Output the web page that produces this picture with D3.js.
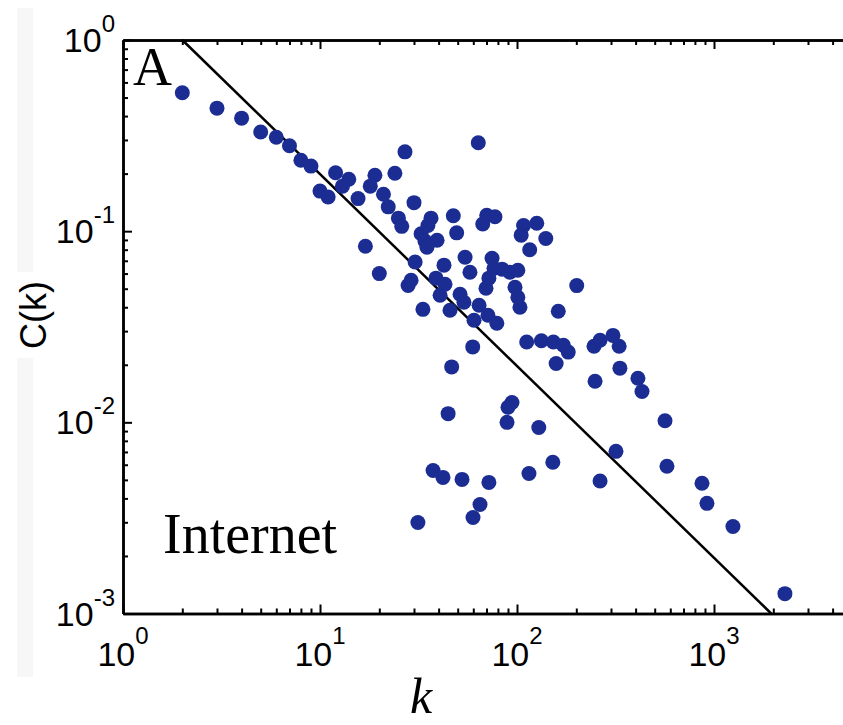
<!DOCTYPE html>
<html>
<head>
<meta charset="utf-8">
<script src="https://cdn.jsdelivr.net/npm/d3@7"></script>
<style>
  body { margin: 0; background: #fff; }
  svg { display: block; }
</style>
</head>
<body>
<div id="chart"></div>
<script>
// degree k and clustering C(k)
const kVals = [2, 3, 4, 5, 6, 7, 8, 9, 10, 11,
  12, 14, 13, 15.6, 17, 19, 18, 21, 22.2, 24,
  27, 25, 26, 20, 30, 28, 29, 30.4, 32.6, 33.3,
  36.6, 35.3, 34.1, 39.3, 34.9, 47.5, 49.4, 70.2, 77.3, 67,
  108, 126, 105, 140, 116, 63.6, 42.6, 54.5, 57.7, 74.7,
  76.4, 84, 92, 101, 72, 97.7, 101, 103.5, 38.8, 43.1,
  40.7, 51.4, 53.8, 69.6, 64.2, 71.2, 79, 60.5, 45.7, 201,
  162, 59.6, 46.6, 112, 133, 153, 172, 182, 158, 246,
  264, 307, 330, 249, 333, 411, 431, 44.7, 94.3, 90,
  89, 129, 37.5, 42.1, 52.6, 72, 115, 152, 264, 318,
  64.9, 59.8, 31.4, 564, 577, 869, 921, 1248, 2291];

const cVals = [0.53, 0.44, 0.39, 0.33, 0.31, 0.28, 0.235, 0.219, 0.162, 0.151,
  0.202, 0.187, 0.172, 0.148, 0.0834, 0.196, 0.172, 0.156, 0.134, 0.201,
  0.26, 0.117, 0.106, 0.060, 0.141, 0.052, 0.0554, 0.069, 0.097, 0.039,
  0.117, 0.107, 0.0887, 0.0897, 0.0824, 0.1205, 0.098, 0.121, 0.119, 0.109,
  0.107, 0.110, 0.0953, 0.0916, 0.080, 0.29, 0.0664, 0.073, 0.061, 0.0722,
  0.064, 0.0633, 0.061, 0.0625, 0.0568, 0.0509, 0.0451, 0.040, 0.0568, 0.0528,
  0.0462, 0.0468, 0.0425, 0.0503, 0.041, 0.0363, 0.033, 0.0342, 0.0386, 0.0519,
  0.0381, 0.0248, 0.0195, 0.0263, 0.0267, 0.0263, 0.0253, 0.0233, 0.0203, 0.025,
  0.0269, 0.0285, 0.025, 0.0164, 0.0192, 0.017, 0.0145, 0.0111, 0.0127, 0.012,
  0.0100, 0.0094, 0.0056, 0.00515, 0.00503, 0.00485, 0.0054, 0.00618, 0.00493, 0.00705,
  0.00372, 0.00318, 0.00299, 0.0102, 0.00589, 0.0048, 0.00377, 0.00285, 0.00127];

// fitted power law line, end points
const lineK = [2, 1950];
const lineC = [1, 0.001];

// axis decades
const xDecades = [0, 1, 2, 3];
const yDecades = [0, -1, -2, -3];

const width = 843,
  height = 725;

const svg = d3.select("#chart")
  .append("svg")
  .attr("width", width)
  .attr("height", height);

// faint strip left over from the scan
svg.append("rect").attr("x", 17).attr("y", 8).attr("width", 16).attr("height", 669).attr("fill", "#f7f7f7");
svg.append("rect").attr("x", 17).attr("y", 272).attr("width", 16).attr("height", 86).attr("fill", "#fff");

const x = d3.scaleLog()
  .domain([1, 1e4])
  .range([123, 123 + 4 * 197]);

const y = d3.scaleLog()
  .domain([1e-3, 1])
  .range([613.5, 40]);

// minor ticks 1..9 per decade
const xMinor = [];
for (let d = 0; d < 4; d++) for (let m = 2; m <= 9; m++) xMinor.push(m * Math.pow(10, d));
const yMinor = [];
for (let d = -3; d < 0; d++) for (let m = 2; m <= 9; m++) yMinor.push(m * Math.pow(10, d));
const xMajor = [1, 10, 100, 1000, 10000];
const yMajor = [0.001, 0.01, 0.1, 1];

function drawAxis(gen, minor, major, tx, ty) {
  const g = svg.append("g").attr("transform", `translate(${tx},${ty})`);
  g.append("g").call(gen.tickValues(minor).tickSize(-5).tickSizeOuter(0).tickFormat(""));
  g.append("g").call(gen.tickValues(major).tickSize(-9).tickSizeOuter(0).tickFormat(""));
  g.selectAll(".domain").attr("stroke", "#000").attr("stroke-width", 2.5);
  g.selectAll(".tick line").attr("stroke", "#000").attr("stroke-width", 2);
}

drawAxis(d3.axisBottom(x), xMinor, xMajor, 0, y(1e-3));
drawAxis(d3.axisTop(x), xMinor, xMajor, 0, y(1));
drawAxis(d3.axisLeft(y), yMinor, yMajor, x(1), 0);

// tick labels with superscripts
const xl = svg.append("g")
  .selectAll("text")
  .data(xDecades)
  .join("text")
  .attr("x", d => x(Math.pow(10, d)))
  .attr("y", 666)
  .attr("text-anchor", "middle")
  .attr("font-family", "Liberation Sans, Arial, sans-serif")
  .attr("font-size", 34);
xl.append("tspan").text("10");
xl.append("tspan").attr("dy", -22).attr("font-size", 24).text(d => d);

const yl = svg.append("g")
  .selectAll("text")
  .data(yDecades)
  .join("text")
  .attr("x", 115)
  .attr("y", d => y(Math.pow(10, d)) + 12)
  .attr("text-anchor", "end")
  .attr("font-family", "Liberation Sans, Arial, sans-serif")
  .attr("font-size", 34);
yl.append("tspan").text("10");
yl.append("tspan").attr("dy", -20).attr("font-size", 24).text(d => d === 0 ? "0" : "-" + Math.abs(d));

// power law line
svg.append("path")
  .datum(d3.zip(lineK, lineC))
  .attr("fill", "none")
  .attr("stroke", "#000")
  .attr("stroke-width", 2.5)
  .attr("d", d3.line().x(d => x(d[0])).y(d => y(d[1])));

// points
svg.append("g")
  .selectAll("circle")
  .data(d3.zip(kVals, cVals))
  .join("circle")
  .attr("cx", d => x(d[0]))
  .attr("cy", d => y(d[1]))
  .attr("r", 7.5)
  .attr("fill", "#1b2d92");

// labels
svg.append("text")
  .attr("x", 133).attr("y", 85)
  .attr("font-family", "Liberation Serif, Times New Roman, serif")
  .attr("font-size", 54)
  .text("A");

svg.append("text")
  .attr("x", 163).attr("y", 553)
  .attr("font-family", "Liberation Serif, Times New Roman, serif")
  .attr("font-size", 56)
  .text("Internet");

svg.append("text")
  .attr("transform", "translate(46,315) rotate(-90)")
  .attr("text-anchor", "middle")
  .attr("font-family", "Liberation Sans, Arial, sans-serif")
  .attr("font-size", 36)
  .text("C(k)");

svg.append("text")
  .attr("x", 421).attr("y", 713)
  .attr("text-anchor", "middle")
  .attr("font-family", "Liberation Serif, Times New Roman, serif")
  .attr("font-style", "italic")
  .attr("font-size", 50)
  .text("k");
</script>
</body>
</html>
